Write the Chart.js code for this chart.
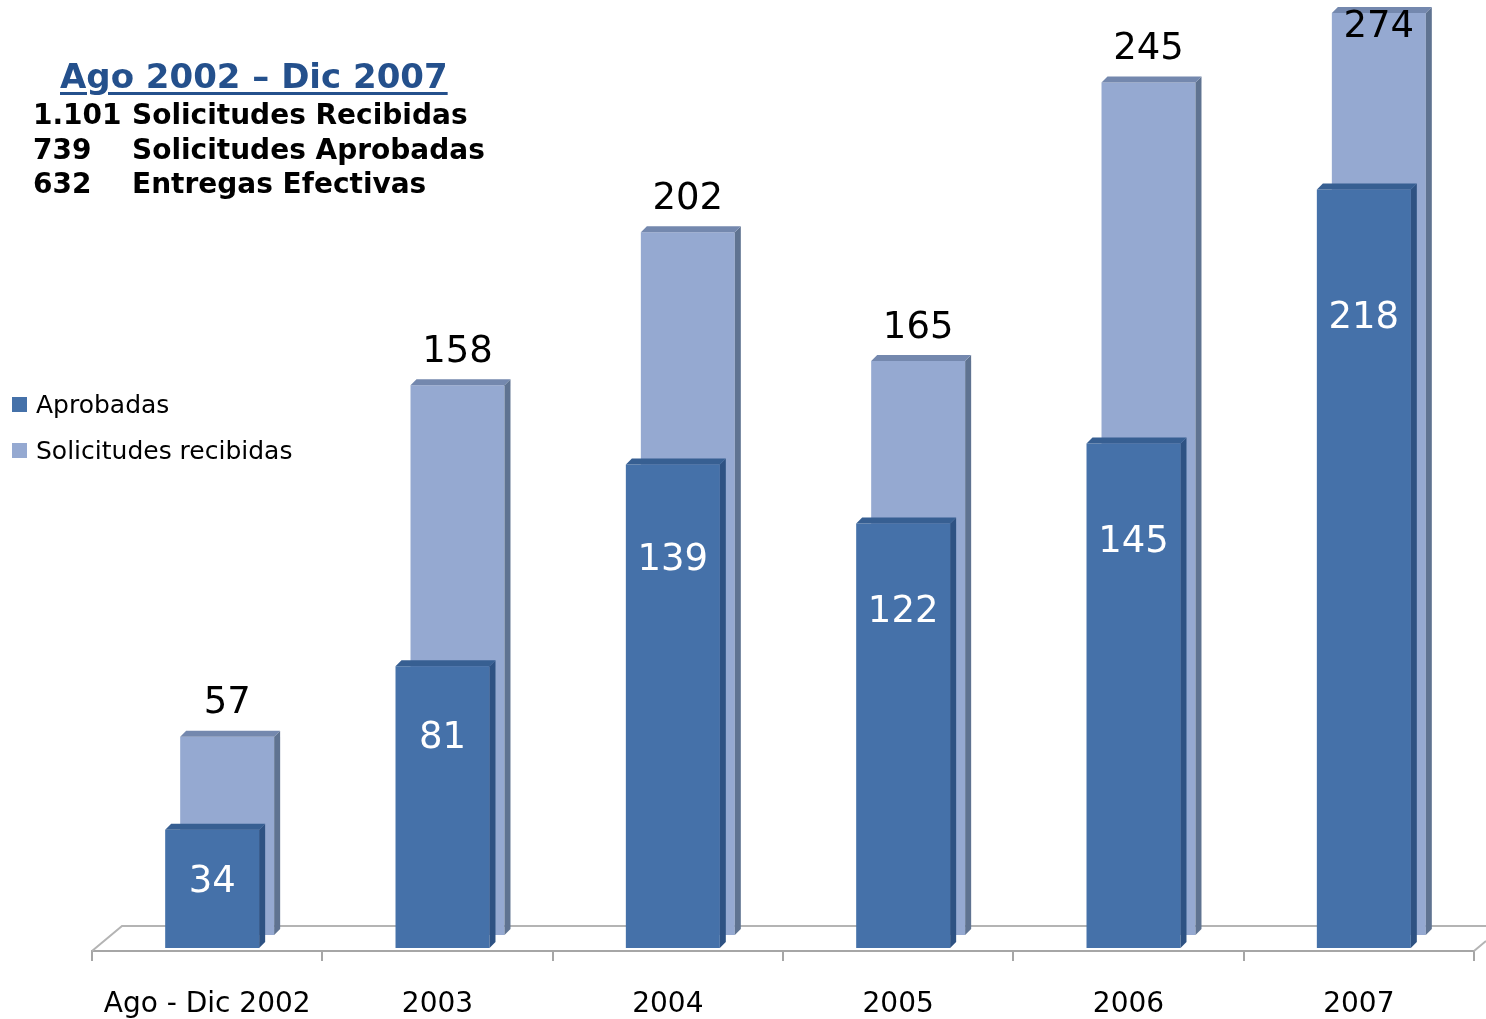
<!DOCTYPE html>
<html>
<head>
<meta charset="utf-8">
<script src="https://cdn.jsdelivr.net/npm/chart.js@4"></script>
<style>
  body { margin: 0; background: #fff; }
  #wrap { position: relative; width: 1486px; height: 1019px; overflow: hidden; font-family: 'DejaVu Sans', sans-serif; }
  #chart { position: absolute; left: 0; top: 0; }
  .title { position: absolute; left: 60px; top: 56px; font-size: 34px; font-weight: bold; color: #24508c;
           text-decoration: underline; text-decoration-thickness: 3px; text-underline-offset: 4px; white-space: nowrap; }
  .row { position: absolute; font-size: 28px; font-weight: bold; color: #000; white-space: nowrap; line-height: 34px; }
  .legend-item { position: absolute; left: 12px; font-size: 25px; color: #000; white-space: nowrap; line-height: 30px; }
  .legend-item span { display: inline-block; width: 15px; height: 15px; margin-right: 9px; vertical-align: 1px; }
</style>
</head>
<body>
<div id="wrap">
  <canvas id="chart" width="1486" height="1019"></canvas>
  <div class="title" id="title"></div>
  <div id="summary"></div>
  <div id="legend"></div>
</div>
<script>
const categories = ['Ago - Dic 2002', '2003', '2004', '2005', '2006', '2007'];
const aprobadas = [34, 81, 139, 122, 145, 218];
const recibidas = [57, 158, 202, 165, 245, 274];
const periodTitle = 'Ago 2002 – Dic 2007';
const summaryNumbers = ['1.101', '739', '632'];
const summaryTexts = ['Solicitudes Recibidas', 'Solicitudes Aprobadas', 'Entregas Efectivas'];

document.getElementById('title').textContent = periodTitle;

const summary = document.getElementById('summary');
summaryNumbers.forEach((n, i) => {
    const num = document.createElement('div');
    num.className = 'row';
    num.style.left = '33px';
    num.style.top = (98 + i * 34.5) + 'px';
    num.textContent = n;
    summary.appendChild(num);
    const txt = document.createElement('div');
    txt.className = 'row';
    txt.style.left = '132px';
    txt.style.top = (98 + i * 34.5) + 'px';
    txt.textContent = summaryTexts[i];
    summary.appendChild(txt);
});

// barras 3D: caras laterales, techo, etiquetas y piso
const bars3d = {
    id: 'bars3d',
    beforeDatasetsDraw(chart) {
        const ctx = chart.ctx, a = chart.chartArea;
        ctx.save();
        ctx.strokeStyle = '#b4b4b4';
        ctx.lineWidth = 2;
        ctx.beginPath();
        ctx.moveTo(a.left, a.bottom);
        ctx.lineTo(a.left + 30, a.bottom - 25);
        ctx.lineTo(chart.width, a.bottom - 25);
        ctx.moveTo(a.right, a.bottom);
        ctx.lineTo(a.right + 12, a.bottom - 10);
        ctx.stroke();
        ctx.restore();
    },
    beforeDatasetDraw(chart, args) {
        const ds = chart.data.datasets[args.index];
        chart.ctx.save();
        chart.ctx.translate(ds.shift[0], ds.shift[1]);
    },
    afterDatasetDraw(chart, args) {
        const ctx = chart.ctx, a = chart.chartArea;
        const ds = chart.data.datasets[args.index];
        const d = 6;
        args.meta.data.forEach((bar, i) => {
            const p = bar.getProps(['x', 'y', 'width', 'base'], true);
            const left = p.x - p.width / 2, right = p.x + p.width / 2;
            const top = Math.max(p.y, a.top);
            ctx.fillStyle = ds.sideColor;
            ctx.beginPath();
            ctx.moveTo(right, top);
            ctx.lineTo(right + d, top - d);
            ctx.lineTo(right + d, p.base - d);
            ctx.lineTo(right, p.base);
            ctx.closePath();
            ctx.fill();
            ctx.fillStyle = ds.topColor;
            ctx.beginPath();
            ctx.moveTo(left, top);
            ctx.lineTo(left + d, top - d);
            ctx.lineTo(right + d, top - d);
            ctx.lineTo(right, top);
            ctx.closePath();
            ctx.fill();

            ctx.font = '37px "DejaVu Sans"';
            ctx.textAlign = 'center';
            ctx.textBaseline = 'middle';
            ctx.fillStyle = ds.labelColor;
            let ly;
            if (ds.labelInside) {
                ly = top + 38 + 0.12 * (p.base - top);
            } else {
                ly = Math.max(top - 33, 27 - ds.shift[1]);
            }
            ctx.fillText(String(ds.data[i]), p.x, ly);
        });
        ctx.restore();
    }
};

new Chart(document.getElementById('chart'), {
    type: 'bar',
    data: {
        labels: categories,
        datasets: [
            {
                label: 'Aprobadas',
                data: aprobadas,
                backgroundColor: '#4571a9',
                sideColor: '#2e5283',
                topColor: '#375f92',
                labelColor: '#ffffff',
                labelInside: true,
                shift: [5, -3],
                grouped: false,
                clip: 0,
                barPercentage: 0.408,
                categoryPercentage: 1
            },
            {
                label: 'Solicitudes recibidas',
                data: recibidas,
                backgroundColor: '#95a9d1',
                sideColor: '#5f7391',
                topColor: '#7488ae',
                labelColor: '#000000',
                labelInside: false,
                shift: [20, -16],
                grouped: false,
                clip: 0,
                barPercentage: 0.408,
                categoryPercentage: 1
            }
        ]
    },
    options: {
        responsive: false,
        animation: false,
        devicePixelRatio: 1,
        layout: { padding: { left: 92, right: 12, top: 29, bottom: 0 } },
        scales: {
            x: {
                offset: true,
                border: { color: '#a6a6a6', width: 2 },
                grid: { drawOnChartArea: false, offset: true, color: '#a6a6a6', lineWidth: 2, tickLength: 10 },
                ticks: { color: '#000', padding: 27, maxRotation: 0, font: { family: 'DejaVu Sans', size: 28 } },
                afterFit(scale) { scale.height = 68; }
            },
            y: { display: false, min: 0, max: 265 }
        },
        plugins: {
            legend: { display: false },
            tooltip: { enabled: false }
        }
    },
    plugins: [bars3d]
});

// leyenda
const legend = document.getElementById('legend');
[['Aprobadas', '#4571a9', 390], ['Solicitudes recibidas', '#95a9d1', 436]].forEach(([name, color, y]) => {
    const item = document.createElement('div');
    item.className = 'legend-item';
    item.style.top = y + 'px';
    item.innerHTML = `<span style="background:${color}"></span>${name}`;
    legend.appendChild(item);
});
</script>
</body>
</html>
